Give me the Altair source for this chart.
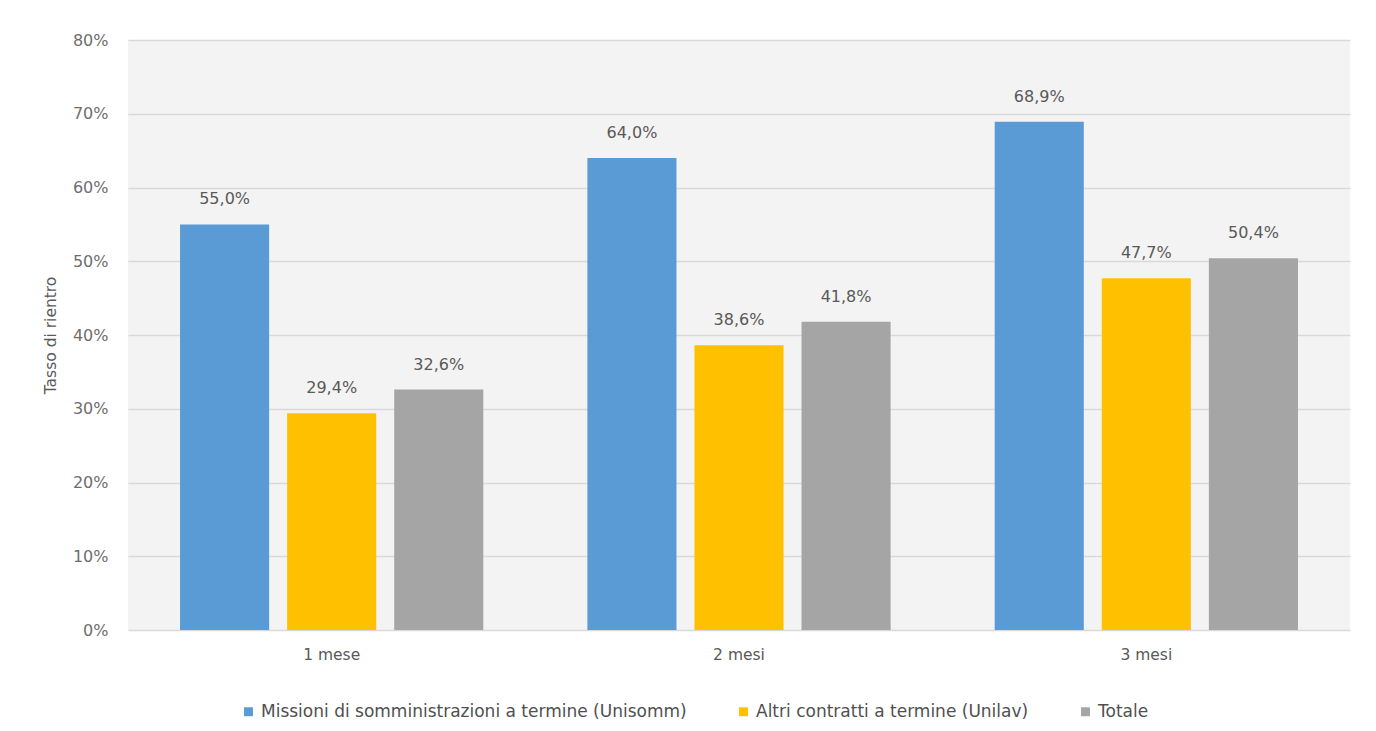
import altair as alt
import pandas as pd

periods = ["1 mese", "2 mesi", "3 mesi"]
series = [
    "Missioni di somministrazioni a termine (Unisomm)",
    "Altri contratti a termine (Unilav)",
    "Totale",
]
colors = ["#5B9BD5", "#FFC000", "#A5A5A5"]
unisomm = [55.0, 64.0, 68.9]
unilav = [29.4, 38.6, 47.7]
totale = [32.6, 41.8, 50.4]

rows = []
for i, p in enumerate(periods):
    for s, vals in zip(series, [unisomm, unilav, totale]):
        v = vals[i]
        rows.append({"period": p, "series": s, "value": v,
                     "label": f"{v:.1f}%".replace(".", ",")})
df = pd.DataFrame(rows)

FONT = "DejaVu Sans"

x = alt.X("period:N", sort=periods, title=None,
          scale=alt.Scale(paddingInner=0, paddingOuter=0),
          axis=alt.Axis(labelAngle=0, ticks=False, domain=False, grid=False,
                        labelFont=FONT, labelFontSize=15.5, labelColor="#595959",
                        labelPadding=17))
xo = alt.XOffset("series:N", sort=series,
                 scale=alt.Scale(paddingInner=0.168, paddingOuter=0.486))

base = alt.Chart(df).encode(x=x, xOffset=xo)

bars = base.mark_bar().encode(
    y=alt.Y("value:Q", title="Tasso di rientro",
            scale=alt.Scale(domain=[0, 80], nice=False),
            axis=alt.Axis(values=[0, 10, 20, 30, 40, 50, 60, 70, 80],
                          labelExpr="datum.value + '%'",
                          domain=False, ticks=False,
                          gridColor="#d9d9d9", gridWidth=1.6,
                          labelFont=FONT, labelFontSize=16, labelColor="#6e6e6e",
                          labelPadding=20,
                          titleFont=FONT, titleFontSize=15.5, titleFontWeight="normal",
                          titleColor="#595959", titlePadding=14)),
    color=alt.Color("series:N", sort=series,
                    scale=alt.Scale(domain=series, range=colors),
                    legend=alt.Legend(title=None, orient="none", direction="horizontal",
                                      legendX=112, legendY=663,
                                      symbolType="square", symbolSize=80,
                                      symbolStrokeWidth=0, symbolOpacity=1,
                                      labelFont=FONT, labelFontSize=17,
                                      labelColor="#505050", labelOffset=4,
                                      columnPadding=48, labelLimit=600)),
)

labels = base.mark_text(baseline="alphabetic", dy=-20, font=FONT,
                        fontSize=16, color="#595959").encode(
    y=alt.Y("value:Q"),
    text="label:N",
)

chart = (bars + labels).properties(
    width=1222, height=590,
    autosize=alt.AutoSizeParams(type="none"),
    padding={"left": 120, "top": 32, "right": 10, "bottom": 93},
    background="#ffffff",
).configure_view(fill="#f3f3f3", stroke=None)

chart.save("out.html", embed_options={"renderer": "svg", "actions": False})
